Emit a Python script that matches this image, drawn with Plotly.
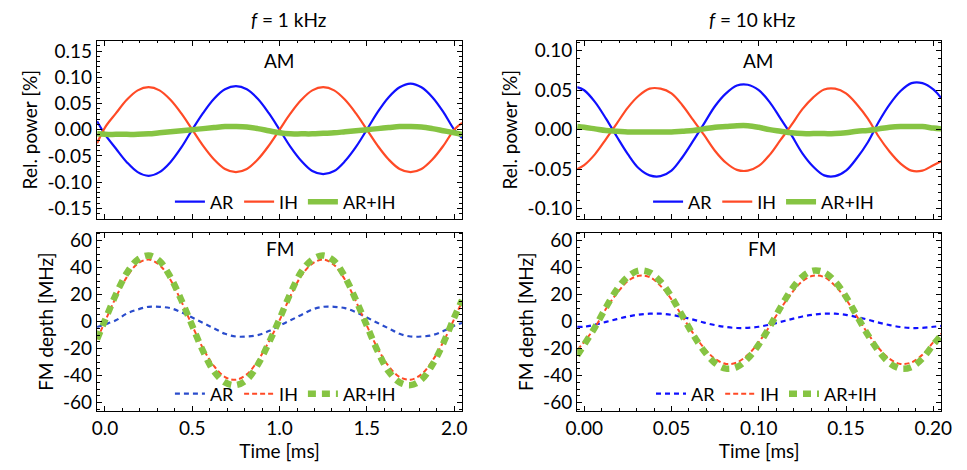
import plotly.graph_objects as go

# ---------- data ----------
# f = 1 kHz, time in ms
t_1k = [-0.045, 0.0, 0.0625, 0.125, 0.1875, 0.25, 0.3125, 0.375, 0.4375, 0.5,
        0.5625, 0.625, 0.6875, 0.75, 0.8125, 0.875, 0.9375, 1.0,
        1.0625, 1.125, 1.1875, 1.25, 1.3125, 1.375, 1.4375, 1.5,
        1.5625, 1.625, 1.6875, 1.75, 1.8125, 1.875, 1.9375, 2.0, 2.045]
am_ar_1k = [0.016, -0.009, -0.036, -0.062, -0.081, -0.088, -0.081, -0.062, -0.034, 0.000,
            0.032, 0.059, 0.077, 0.083, 0.077, 0.059, 0.032, 0.000,
            -0.033, -0.060, -0.079, -0.085, -0.079, -0.060, -0.033, 0.000,
            0.034, 0.062, 0.081, 0.088, 0.081, 0.062, 0.034, 0.000, -0.016]
am_ih_1k = [-0.026, 0.004, 0.031, 0.057, 0.075, 0.081, 0.075, 0.057, 0.031, 0.000,
            -0.031, -0.057, -0.075, -0.081, -0.075, -0.057, -0.031, 0.000,
            0.031, 0.057, 0.075, 0.081, 0.075, 0.057, 0.031, 0.000,
            -0.031, -0.057, -0.075, -0.081, -0.075, -0.057, -0.031, 0.000, 0.013]
am_sum_1k = [-0.008, -0.009, -0.009, -0.009, -0.009, -0.008, -0.006, -0.004, -0.002, 0.000,
             0.002, 0.004, 0.006, 0.006, 0.005, 0.002, -0.002, -0.006,
             -0.008, -0.008, -0.008, -0.007, -0.006, -0.004, -0.002, 0.000,
             0.002, 0.004, 0.006, 0.006, 0.005, 0.002, -0.002, -0.006, -0.009]
fm_ar_1k = [-4, -2, 1, 6, 9, 11, 11, 10, 7, 3,
            -1, -5, -9, -11, -11, -10, -7, -3,
            1, 5, 9, 11, 11, 10, 7, 3,
            -1, -5, -9, -11, -11, -10, -7, -3, -1]
fm_ih_1k = [-13, 0, 18, 33, 43, 46, 42, 31, 15, -3,
            -20, -33, -41, -43, -39, -29, -15, 1,
            19, 34, 43, 46, 42, 31, 15, -3,
            -20, -33, -41, -43, -39, -29, -15, 2, 15]
fm_sum_1k = [-13, 1, 20, 36, 46, 49, 45, 33, 16, -3,
             -22, -37, -45, -47, -43, -32, -16, 2,
             21, 37, 46, 49, 45, 33, 16, -3,
             -22, -37, -45, -47, -43, -32, -16, 3, 16]

# f = 10 kHz, time in ms
t_10k = [-0.004, 0.0, 0.00625, 0.0125, 0.01875, 0.025, 0.03125, 0.0375, 0.04375, 0.05,
         0.05625, 0.0625, 0.06875, 0.075, 0.08125, 0.0875, 0.09375, 0.1,
         0.10625, 0.1125, 0.11875, 0.125, 0.13125, 0.1375, 0.14375, 0.15,
         0.15625, 0.1625, 0.16875, 0.175, 0.18125, 0.1875, 0.19375, 0.2, 0.2045]
am_ar_10k = [0.054, 0.050, 0.035, 0.014, -0.009, -0.031, -0.049, -0.058, -0.059, -0.052,
             -0.035, -0.014, 0.008, 0.030, 0.046, 0.056, 0.057, 0.050,
             0.035, 0.014, -0.007, -0.030, -0.047, -0.058, -0.059, -0.052,
             -0.036, -0.016, 0.010, 0.032, 0.049, 0.059, 0.059, 0.051, 0.040]
am_ih_10k = [-0.050, -0.045, -0.031, -0.012, 0.008, 0.028, 0.043, 0.052, 0.052, 0.046,
             0.031, 0.012, -0.007, -0.027, -0.042, -0.051, -0.052, -0.046,
             -0.032, -0.013, 0.006, 0.026, 0.041, 0.051, 0.052, 0.046,
             0.032, 0.014, -0.009, -0.028, -0.043, -0.052, -0.052, -0.045, -0.040]
am_sum_10k = [0.004, 0.003, 0.001, -0.001, -0.002, -0.003, -0.003, -0.003, -0.003, -0.003,
              -0.002, -0.001, 0.001, 0.003, 0.004, 0.005, 0.005, 0.003,
              0.000, -0.002, -0.004, -0.005, -0.005, -0.005, -0.005, -0.004,
              -0.002, -0.001, 0.001, 0.003, 0.004, 0.004, 0.004, 0.002, 0.001]
fm_ar_10k = [-3.8, -3.8, -2.2, -0.2, 1.9, 3.8, 5.2, 5.9, 5.9, 5.0,
             3.4, 1.5, -0.7, -2.6, -4.0, -4.7, -4.6, -3.8,
             -2.2, -0.2, 1.9, 3.8, 5.2, 5.9, 5.9, 5.0,
             3.4, 1.5, -0.7, -2.6, -4.0, -4.7, -4.6, -3.8, -3.2]
fm_ih_10k = [-21, -15, -4, 9.5, 21, 30, 34, 33, 26.5, 16.5,
             3.8, -8.8, -19.7, -27.6, -31.3, -30.2, -24.6, -15.3,
             -3.4, 9.5, 21, 30, 34, 33, 26.5, 16.5,
             3.8, -8.8, -19.7, -27.6, -31.3, -30.2, -24.6, -15.3, -9]
fm_sum_10k = [-25, -17, -4, 10.6, 23.8, 33.3, 37.8, 36.5, 29.7, 18.4,
              4.2, -9.8, -21.9, -30.7, -34.8, -33.6, -27.3, -17,
              -3.8, 10.6, 23.8, 33.3, 37.8, 36.5, 29.7, 18.4,
              4.2, -9.8, -21.9, -30.7, -34.8, -33.6, -27.3, -17, -10]

series_names = ["AR", "IH", "AR+IH"]

am_ticks_1k = [-0.15, -0.10, -0.05, 0.0, 0.05, 0.10, 0.15]
am_labels_1k = ["-0.15", "-0.10", "-0.05", "0.00", "0.05", "0.10", "0.15"]
am_ticks_10k = [-0.10, -0.05, 0.0, 0.05, 0.10]
am_labels_10k = ["-0.10", "-0.05", "0.00", "0.05", "0.10"]
fm_ticks = [-60, -40, -20, 0, 20, 40, 60]
fm_labels = ["-60", "-40", "-20", "0", "20", "40", "60"]
x_ticks_1k = [0.0, 0.5, 1.0, 1.5, 2.0]
x_labels_1k = ["0.0", "0.5", "1.0", "1.5", "2.0"]
x_ticks_10k = [0.0, 0.05, 0.10, 0.15, 0.20]
x_labels_10k = ["0.00", "0.05", "0.10", "0.15", "0.20"]

# ---------- styling ----------
FONT = "Lato"
FS_TICK = 19
FS_LEG = 18
BLUE = "#1010ff"
BLUE_FM = "#2a4ccc"
RED = "#ff4a26"
GREEN = "#86c443"
OFF = 8                      # page body margin
W, H = 967 - 2 * OFF, 470 - 2 * OFF


def px_x(v):
    return (v - OFF) / W


def px_y(v):
    return 1 - (v - OFF) / H


fig = go.Figure()


def add_am(t, ys, xa, ya, leg):
    styles = [(BLUE, 2.2), (RED, 2.2), (GREEN, 5.5)]
    for name, y, (c, w) in zip(series_names, ys, styles):
        fig.add_trace(go.Scatter(
            x=t, y=y, name=name, mode="lines", xaxis=xa, yaxis=ya, legend=leg,
            line=dict(color=c, width=w, shape="spline", smoothing=1.0),
        ))


def add_fm(t, ys, xa, ya, leg, blue):
    styles = [(blue, 2.2, "5px,4px"), (RED, 2, "5px,3px"), (GREEN, 6.5, "8px,6px")]
    for name, y, (c, w, d) in zip(series_names, ys, styles):
        fig.add_trace(go.Scatter(
            x=t, y=y, name=name, mode="lines", xaxis=xa, yaxis=ya, legend=leg,
            line=dict(color=c, width=w, dash=d, shape="spline", smoothing=1.0),
        ))


add_am(t_1k, [am_ar_1k, am_ih_1k, am_sum_1k], "x", "y", "legend")
add_am(t_10k, [am_ar_10k, am_ih_10k, am_sum_10k], "x2", "y2", "legend2")
add_fm(t_1k, [fm_ar_1k, fm_ih_1k, fm_sum_1k], "x3", "y3", "legend3", BLUE_FM)
add_fm(t_10k, [fm_ar_10k, fm_ih_10k, fm_sum_10k], "x4", "y4", "legend4", BLUE)

title_font = dict(family=FONT, size=FS_TICK, color="black")


def axis(domain, rng, **kw):
    d = dict(
        domain=domain, range=rng, showline=True, mirror="allticks",
        linecolor="black", linewidth=1.4, ticks="inside", ticklen=5,
        tickwidth=1.3, tickcolor="black", showgrid=False, zeroline=False,
        tickfont=dict(family=FONT, size=FS_TICK, color="black"),
    )
    d.update(kw)
    return d


def minor(dt):
    return dict(ticks="inside", ticklen=2.5, tickwidth=1, tickcolor="black", dtick=dt, tick0=0)


xl = [px_x(87), px_x(461)]
xr = [px_x(579), px_x(952)]
yt = [px_y(218), px_y(37)]
yb = [px_y(413), px_y(232)]

fig.update_layout(
    width=W, height=H,
    margin=dict(l=0, r=0, t=0, b=0),
    paper_bgcolor="white", plot_bgcolor="white",
    font=dict(family=FONT, size=FS_TICK, color="black"),
    xaxis=axis(xl, [-0.045, 2.045], anchor="y", showticklabels=False,
               tickmode="array", tickvals=x_ticks_1k, minor=minor(0.1)),
    xaxis2=axis(xr, [-0.004, 0.2045], anchor="y2", showticklabels=False,
                tickmode="array", tickvals=x_ticks_10k, minor=minor(0.01)),
    xaxis3=axis(xl, [-0.045, 2.045], anchor="y3", tickmode="array",
                tickvals=x_ticks_1k, ticktext=x_labels_1k, minor=minor(0.1),
                title=dict(text="Time [ms]", font=title_font, standoff=4)),
    xaxis4=axis(xr, [-0.004, 0.2045], anchor="y4", tickmode="array",
                tickvals=x_ticks_10k, ticktext=x_labels_10k, minor=minor(0.01),
                title=dict(text="Time [ms]", font=title_font, standoff=4)),
    yaxis=axis(yt, [-0.17, 0.17], anchor="x", tickmode="array",
               tickvals=am_ticks_1k, ticktext=am_labels_1k, minor=minor(0.01),
               title=dict(text="Rel. power [%]", font=title_font, standoff=4)),
    yaxis2=axis(yt, [-0.113, 0.113], anchor="x2", tickmode="array",
                tickvals=am_ticks_10k, ticktext=am_labels_10k, minor=minor(0.01),
                title=dict(text="Rel. power [%]", font=title_font, standoff=4)),
    yaxis3=axis(yb, [-66, 66], anchor="x3", tickmode="array",
                tickvals=fm_ticks, ticktext=fm_labels, minor=minor(5),
                title=dict(text="FM depth [MHz]", font=title_font, standoff=4)),
    yaxis4=axis(yb, [-66, 66], anchor="x4", tickmode="array",
                tickvals=fm_ticks, ticktext=fm_labels, minor=minor(5),
                title=dict(text="FM depth [MHz]", font=title_font, standoff=4)),
)

leg_common = dict(orientation="h", xanchor="center", yanchor="middle",
                  bgcolor="rgba(0,0,0,0)", font=dict(family=FONT, size=FS_LEG, color="black"),
                  itemwidth=30, tracegroupgap=0)
fig.update_layout(
    legend=dict(x=px_x(280), y=px_y(201), **leg_common),
    legend2=dict(x=px_x(770), y=px_y(201), **leg_common),
    legend3=dict(x=px_x(280), y=px_y(396), **leg_common),
    legend4=dict(x=px_x(773), y=px_y(396), **leg_common),
)

annos = [
    ("<i>f</i> = 1 kHz", 283, 16, 19),
    ("<i>f</i> = 10 kHz", 758, 16, 19),
    ("AM", 274, 57, 19),
    ("AM", 765, 57, 19),
    ("FM", 274, 248, 19),
    ("FM", 768, 248, 19),
]
for text, x, y, size in annos:
    fig.add_annotation(text=text, x=px_x(x), y=px_y(y), xref="paper", yref="paper",
                       showarrow=False, xanchor="center", yanchor="middle",
                       font=dict(family=FONT, size=size, color="black"))

fig.write_html("out.html")
